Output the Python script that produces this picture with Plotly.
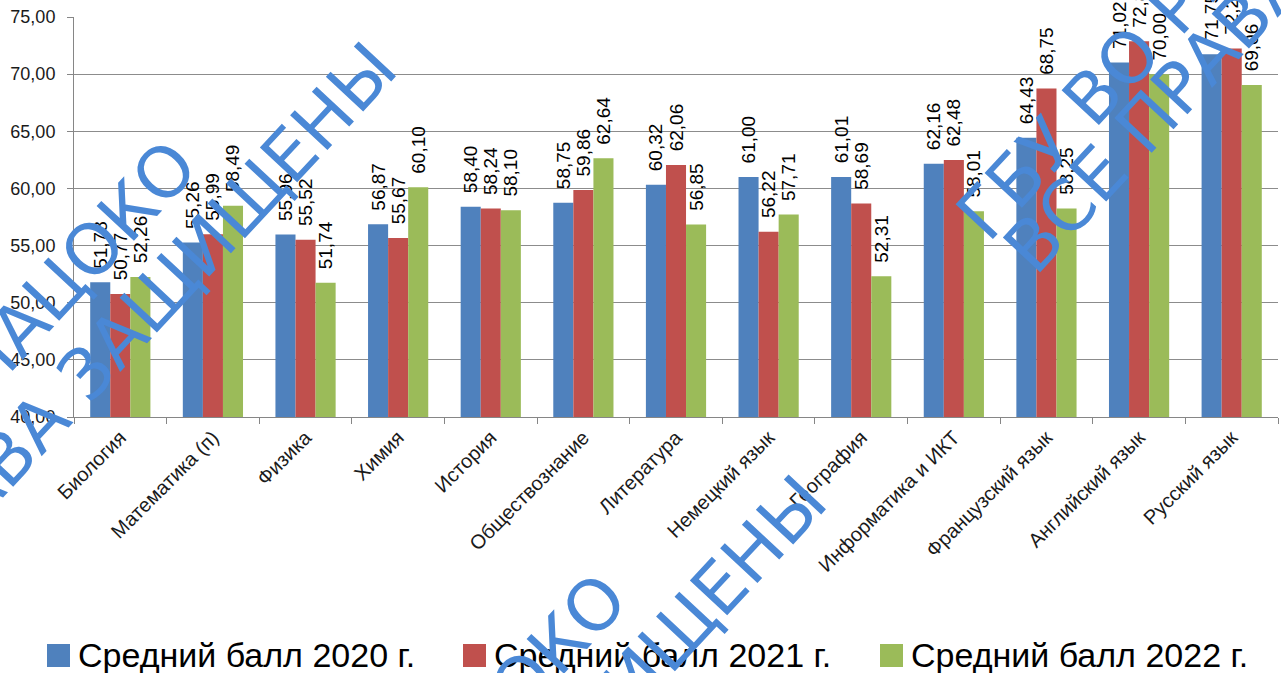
import plotly.graph_objects as go

categories = ["Биология", "Математика (п)", "Физика", "Химия", "История",
              "Обществознание", "Литература", "Немецкий язык", "География",
              "Информатика и ИКТ", "Французский язык", "Английский язык", "Русский язык"]
score_2020 = [51.78, 55.26, 55.96, 56.87, 58.40, 58.75, 60.32, 61.00, 61.01, 62.16, 64.43, 71.02, 71.75]
score_2021 = [50.77, 55.99, 55.52, 55.67, 58.24, 59.86, 62.06, 56.22, 58.69, 62.48, 68.75, 72.88, 72.25]
score_2022 = [52.26, 58.49, 51.74, 60.10, 58.10, 62.64, 56.85, 57.71, 52.31, 58.01, 58.25, 70.00, 69.06]
series_names = ["Средний балл 2020 г.", "Средний балл 2021 г.", "Средний балл 2022 г."]
series_colors = ["#4F81BD", "#C0504D", "#9BBB59"]

W, H = 1281, 673
L, R, T, B = 74, 3, 17, 256
PW, PH = W - L - R, H - T - B


def px(x, y):
    return (x - L) / PW, (H - B - y) / PH


def fmt(v):
    return "\u00a0\u00a0" + f"{v:.2f}".replace(".", ",")


fig = go.Figure()
for name, vals, col in zip(series_names, [score_2020, score_2021, score_2022], series_colors):
    fig.add_trace(go.Bar(
        x=categories, y=vals, name=name, marker_color=col, marker_line_width=0,
        text=[fmt(v) for v in vals], textposition="outside", textangle=-90,
        textfont=dict(family="Liberation Sans", size=19, color="#000000"),
        cliponaxis=False, constraintext="none", showlegend=False,
    ))

fig.update_layout(
    width=W, height=H, barmode="group", bargap=0.35, bargroupgap=0,
    margin=dict(l=L, r=R, t=T, b=B, pad=0, autoexpand=False),
    plot_bgcolor="white", paper_bgcolor="white", separators=", ",
    font=dict(family="Liberation Sans", color="#1a1a1a"),
    xaxis=dict(showline=True, linecolor="#868686", linewidth=1, ticks="outside",
               tickson="boundaries", ticklen=6, tickcolor="#868686", tickangle=-45,
               tickfont=dict(size=20, color="#1a1a1a"), showgrid=False, automargin=False),
    yaxis=dict(range=[40, 75], dtick=5, tickformat=".2f", showgrid=True,
               gridcolor="#8c8c8c", gridwidth=1, showline=True, linecolor="#868686",
               ticks="outside", ticklen=6, tickcolor="#868686", ticklabelstandoff=8,
               tickfont=dict(size=18, color="#1a1a1a"), zeroline=False, automargin=False),
)

# manual legend
leg_sq_x = [47, 463, 880]
for i, (name, col) in enumerate(zip(series_names, series_colors)):
    x0, y0 = px(leg_sq_x[i], 644)
    x1, y1 = px(leg_sq_x[i] + 23, 667)
    fig.add_shape(type="rect", xref="paper", yref="paper", x0=x0, y0=y0, x1=x1, y1=y1,
                  fillcolor=col, line_width=0)
    tx, ty = px(leg_sq_x[i] + 29, 655)
    fig.add_annotation(xref="paper", yref="paper", x=tx, y=ty, xanchor="left", yanchor="middle",
                       text=name, showarrow=False,
                       font=dict(family="Liberation Sans", size=34, color="#000000"))

# watermark
wm_font = dict(family="DejaVu Sans", size=70, color="#4A88D6")
wm_lines = ["ГБУ ВО РИАЦОКО", "ВСЕ ПРАВА ЗАЩИЩЕНЫ"]
ends = [((216, 122), (416, 24)), ((646, 555), (846, 457))]
for (e1, e2) in ends:
    for txt, (ex, ey) in zip(wm_lines, (e1, e2)):
        ax_, ay_ = px(ex, ey)
        fig.add_annotation(xref="paper", yref="paper", x=ax_, y=ay_, xanchor="right", yanchor="top",
                           text=txt, showarrow=False, textangle=-47, font=wm_font)
starts = [(938, 258), (985, 292)]
for txt, (sx, sy) in zip(wm_lines, starts):
    ax_, ay_ = px(sx, sy)
    fig.add_annotation(xref="paper", yref="paper", x=ax_, y=ay_, xanchor="left", yanchor="bottom",
                       text=txt, showarrow=False, textangle=-47, font=wm_font)

fig.write_html("out.html", post_script="document.body.style.margin='0px';",
               config={"displayModeBar": False})
